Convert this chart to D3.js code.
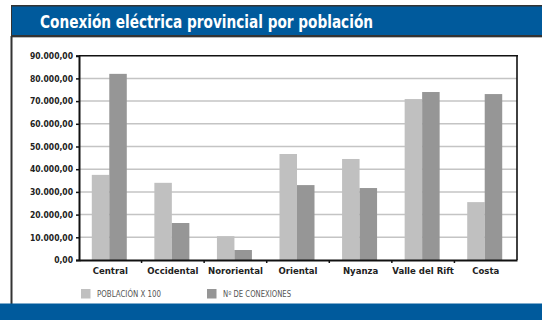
<!DOCTYPE html>
<html><head><meta charset="utf-8">
<script src="https://cdn.jsdelivr.net/npm/d3@7"></script>
<style>
body{margin:0;background:#fff;}
svg{display:block;}
</style></head>
<body>
<svg id="c" width="542" height="320"></svg>
<script>
const categories = ["Central","Occidental","Nororiental","Oriental","Nyanza","Valle del Rift","Costa"];
const poblacion = [37500, 34000, 10500, 46700, 44500, 70900, 25500];
const conexiones = [82000, 16300, 4400, 33000, 31700, 74000, 73100];
const seriesNames = ["POBLACIÓN X 100", "Nº DE CONEXIONES"];
const yTicks = [0,10000,20000,30000,40000,50000,60000,70000,80000,90000];
const title = "Conexión eléctrica provincial por población";

const svg = d3.select("#c");
const cond = "'DejaVu Sans Condensed','Liberation Sans Narrow','Arial Narrow',sans-serif";
const blue = "#005a9c";

// banner
svg.append("rect").attr("x",11).attr("y",5).attr("width",531).attr("height",32).attr("fill","#333");
svg.append("rect").attr("x",12).attr("y",6.5).attr("width",530).attr("height",28.5).attr("fill",blue);
svg.append("line").attr("x1",11).attr("x2",542).attr("y1",37.5).attr("y2",37.5).attr("stroke","#bbb").attr("stroke-width",1);
svg.append("text").attr("x",40).attr("y",28).attr("fill","#fff")
  .attr("font-family",cond).attr("font-weight","bold").attr("font-size",18)
  .attr("textLength",333).attr("lengthAdjust","spacingAndGlyphs")
  .text(title);
// left border
svg.append("line").attr("x1",11.5).attr("x2",11.5).attr("y1",36).attr("y2",304).attr("stroke","#333").attr("stroke-width",2);
// bottom band
svg.append("rect").attr("x",0).attr("y",303.5).attr("width",542).attr("height",17).attr("fill",blue);

const m = {l:79, r:517, t:55.7, b:260};
const x = d3.scaleBand().domain(categories).range([m.l,m.r]);
const y = d3.scaleLinear().domain([0,90000]).range([m.b,m.t]);
const bw = 17.5;

// gridlines
svg.append("g").selectAll("line").data(yTicks.filter(t=>t>0 && t<90000)).join("line")
  .attr("x1",m.l).attr("x2",m.r).attr("y1",d=>y(d)).attr("y2",d=>y(d))
  .attr("stroke","#c4c4c4").attr("stroke-width",1.5);

// bars
const g = svg.append("g");
categories.forEach((c,i)=>{
  const cx = x(c) + x.bandwidth()/2 - 1;
  g.append("rect").attr("x",cx-bw).attr("width",bw).attr("y",y(poblacion[i])).attr("height",y(0)-y(poblacion[i])).attr("fill","#c0c0c0");
  g.append("rect").attr("x",cx).attr("width",bw).attr("y",y(conexiones[i])).attr("height",y(0)-y(conexiones[i])).attr("fill","#969696");
});

// frame top/right
svg.append("line").attr("x1",m.l).attr("x2",m.r+1).attr("y1",m.t).attr("y2",m.t).attr("stroke","#111").attr("stroke-width",1.6);
svg.append("line").attr("x1",m.r).attr("x2",m.r).attr("y1",m.t).attr("y2",m.b).attr("stroke","#111").attr("stroke-width",1.6);

// y axis
const fmt = v => d3.format(",.2f")(v).replace(/,/g,"#").replace(/\./g,",").replace(/#/g,".");
const ya = svg.append("g").attr("transform",`translate(${m.l},0)`)
  .call(d3.axisLeft(y).tickValues(yTicks).tickSize(3).tickPadding(3).tickFormat(fmt));
ya.select(".domain").attr("stroke","#111").attr("stroke-width",2);
ya.selectAll(".tick line").attr("stroke","#111").attr("stroke-width",1.5);
ya.selectAll("text").attr("font-family",cond).attr("font-weight","bold").attr("font-size",8.5).attr("fill","#222");

// x axis
const xa = svg.append("g").attr("transform",`translate(0,${m.b})`)
  .call(d3.axisBottom(x).tickSize(0).tickPadding(7));
xa.select(".domain").attr("stroke","#111").attr("stroke-width",2);
xa.selectAll("text").attr("font-family",cond).attr("font-weight","bold").attr("font-size",9.5).attr("fill","#222");
// boundary ticks
svg.append("g").selectAll("line").data(categories.slice(1)).join("line")
  .attr("x1",d=>x(d)).attr("x2",d=>x(d)).attr("y1",m.b).attr("y2",m.b+3)
  .attr("stroke","#111").attr("stroke-width",1.5);

// legend
const lg = svg.append("g");
const lx = [81, 207];
const lw = [64, 68];
const lc = ["#c0c0c0","#969696"];
seriesNames.forEach((s,i)=>{
  lg.append("rect").attr("x",lx[i]).attr("y",289).attr("width",9.5).attr("height",9.5).attr("fill",lc[i]);
  lg.append("text").attr("x",lx[i]+16).attr("y",296.8).attr("font-family",cond).attr("font-size",8)
    .attr("textLength",lw[i]).attr("lengthAdjust","spacingAndGlyphs").attr("fill","#555").text(s);
});
</script>
</body></html>
